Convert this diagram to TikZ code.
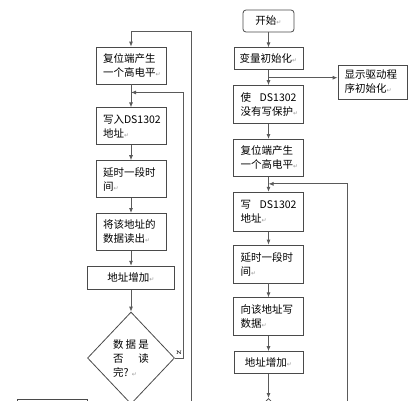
\documentclass[tikz,border=0pt]{standalone}
\usepackage{fontspec}
\newfontfamily\cjk{Noto Sans CJK SC}
\newfontfamily\symfont{DejaVu Sans}
\usetikzlibrary{arrows.meta, positioning, shapes.geometric, calc}
\definecolor{linegray}{HTML}{5A5A5A}
\definecolor{boxgray}{HTML}{4A4A4A}
\definecolor{markgray}{HTML}{9A9A9A}
\newcommand{\retmark}{{\symfont\color{markgray}\fontsize{6}{6}\selectfont ↵}}
\newcommand{\spread}{\hskip 0pt plus 1fill\relax}

\begin{document}
\begin{tikzpicture}[x=1pt, y=-1pt, node distance=15pt,
  >={Latex[length=5pt,width=4pt]},
  every node/.style={font=\cjk\fontsize{10.5}{14}\selectfont},
  box/.style={draw=boxgray, line width=0.8pt, minimum width=70pt, minimum height=37pt,
    text width=56pt, inner xsep=7pt, align=left},
  onebox/.style={draw=boxgray, line width=0.8pt, minimum width=69pt, minimum height=22pt, align=center},
  startbox/.style={onebox, rounded corners=3pt, minimum width=51pt},
  decision/.style={draw=boxgray, diamond, line width=0.8pt, minimum width=87pt, minimum height=92pt,
    inner sep=1pt, text width=36pt, align=left},
  link/.style={draw=linegray, line width=0.8pt, ->}]
\useasboundingbox (0,0) rectangle (414,400);
\clip (0,0) rectangle (414,400);

% read loop (left)
\node (rst) [box] at (131,65.5) {复位端产生\\一个高电平\retmark};
\node (raddr) [box, below=23pt of rst] {写入DS1302\\地址\retmark};
\node (rdly) [box, below=of raddr] {延时一段时\\间\retmark};
\node (rget) [box, below=of rdly] {将该地址的\\数据读出\retmark};
\node (rinc) [onebox, minimum width=87pt, minimum height=23pt, below=of rget] {地址增加\retmark};
\node (rdone) [decision, below=22pt of rinc] {数\spread 据\spread 是\\否\spread 读\\完?\ \retmark};
\node (nxt) [box, anchor=north] at (52.5,399) {};

% write loop (right)
\node (start) [startbox] at (268.5,21) {开始\retmark};
\node (init) [onebox, below=of start] {变量初始化\retmark};
\node (unprot) [box, minimum width=69pt, minimum height=38pt, below=of init] {使\spread DS1302\\没有写保护\retmark};
\node (disp) [box, minimum width=69pt, minimum height=34pt, inner xsep=6.5pt] at (372.5,82) {显示驱动程\\序初始化\retmark};
\node (wrst) [box, minimum width=69pt, below=of unprot] {复位端产生\\一个高电平\retmark};
\node (wwr) [box, minimum width=69pt, minimum height=39pt, below=of wrst] {写\spread DS1302\\地址\retmark};
\node (wdly) [box, minimum width=69pt, minimum height=38pt, below=13pt of wwr] {延时一段时\\间\retmark};
\node (wdat) [box, minimum width=69pt, minimum height=38pt, below=14pt of wdly] {向该地址写\\数据\retmark};
\node (winc) [onebox, below=of wdat] {地址增加\retmark};
\node (wdone) [decision, below=24pt of winc] {};

% left connectors
\draw[link] (rst) -- (raddr);
\draw[link] (raddr) -- (rdly);
\draw[link] (rdly) -- (rget);
\draw[link] (rget) -- (rinc);
\draw[link] (rinc) -- (rdone);
\draw[link] (rdone.east) -- node[above, font=\rmfamily\bfseries\fontsize{5}{5}\selectfont]{N} ++(8,0)
  |- ($(rst.south)!0.35!(raddr.north)$);
\coordinate (outL) at (191,410);
\draw[link] (outL) |- ([yshift=15pt]rst.north) -- (rst.north);

% right connectors
\draw[link] (start) -- (init);
\draw[link] (init) -- (unprot);
\coordinate (br) at ($(init.south)!0.5!(unprot.north)$);
\draw[link] (br) -- (br -| disp.west);
\draw[link] (unprot) -- (wrst);
\draw[link] (wrst) -- (wwr);
\draw[link] (wwr) -- (wdly);
\draw[link] (wdly) -- (wdat);
\draw[link] (wdat) -- (winc);
\draw[link] (winc) -- (wdone);
\coordinate (outR) at (347,410);
\draw[link] (outR) |- ($(wrst.south)!0.47!(wwr.north)$);
\end{tikzpicture}
\end{document}
